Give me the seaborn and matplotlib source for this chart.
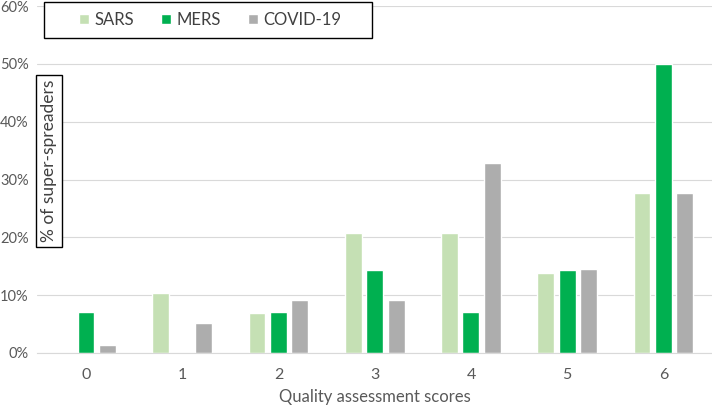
import matplotlib
matplotlib.use("Agg")
import matplotlib.pyplot as plt
import seaborn as sns
import pandas as pd
from matplotlib.ticker import PercentFormatter
from matplotlib.patches import Rectangle

scores = ["0", "1", "2", "3", "4", "5", "6"]
sars = [0.0, 10.3, 6.9, 20.7, 20.7, 13.8, 27.6]
mers = [7.1, 0.0, 7.1, 14.3, 7.1, 14.3, 50.0]
covid = [1.3, 5.2, 9.2, 9.2, 32.9, 14.5, 27.6]
series = ["SARS", "MERS", "COVID-19"]
colors = ["#C5E0B4", "#00B050", "#ADADAD"]

rows = []
for name, vals in zip(series, [sars, mers, covid]):
    for s, v in zip(scores, vals):
        rows.append({"score": s, "series": name, "value": v})
df = pd.DataFrame(rows)

sns.set_theme(style="white")
plt.rcParams["font.family"] = ["Lato", "DejaVu Sans"]

W, H = 712, 407
fig = plt.figure(figsize=(7.12, 4.07), dpi=100)
ax = fig.add_axes([37 / W, 1 - 353 / H, 1 - 37 / W, (353 - 6) / H])

sns.barplot(data=df, x="score", y="value", hue="series", order=scores,
            hue_order=series, palette=colors, width=0.67, gap=0.21,
            saturation=1, ax=ax, legend=True)

ax.set_ylim(0, 60)
ax.set_xlim(-0.509, 6.504)
ax.set_yticks(range(0, 61, 10))
ax.yaxis.set_major_formatter(PercentFormatter(decimals=0))
ax.grid(axis="y", color="#D9D9D9", lw=0.8)
ax.set_axisbelow(True)
for sp in ["top", "right", "left"]:
    ax.spines[sp].set_visible(False)
ax.spines["bottom"].set_color("#D9D9D9")
ax.spines["bottom"].set_linewidth(0.8)
ax.tick_params(axis="both", length=0, colors="#595959", labelsize=10.5)
ax.tick_params(axis="x", pad=11, labelsize=11.5)
ax.tick_params(axis="y", pad=6)
ax.set_ylabel("")
ax.set_xlabel("Quality assessment scores", fontsize=12, color="#595959", labelpad=5)

handles, labels = ax.get_legend_handles_labels()
ax.get_legend().remove()

# legend box
fig.add_artist(Rectangle((44 / W, 1 - 38 / H), (372 - 44) / W, 36 / H,
                         transform=fig.transFigure, fc="white", ec="black",
                         lw=1.0, zorder=5))
leg = fig.legend(handles, labels, loc="center",
                 bbox_to_anchor=(210 / W, 1 - 20 / H),
                 ncol=3, frameon=False,
                 fontsize=12, handlelength=0.6, handleheight=0.6,
                 handletextpad=0.35, columnspacing=1.6, borderaxespad=0)
leg.set_zorder(6)
for t in leg.get_texts():
    t.set_color("#404040")

fig.text(49 / W, 1 - 161 / H, "% of super-spreaders", rotation=90,
         ha="center", va="center", fontsize=12.5, color="#404040",
         bbox=dict(boxstyle="square,pad=0.3", fc="white", ec="black", lw=1.0))

fig.savefig("out.png", dpi=100)
